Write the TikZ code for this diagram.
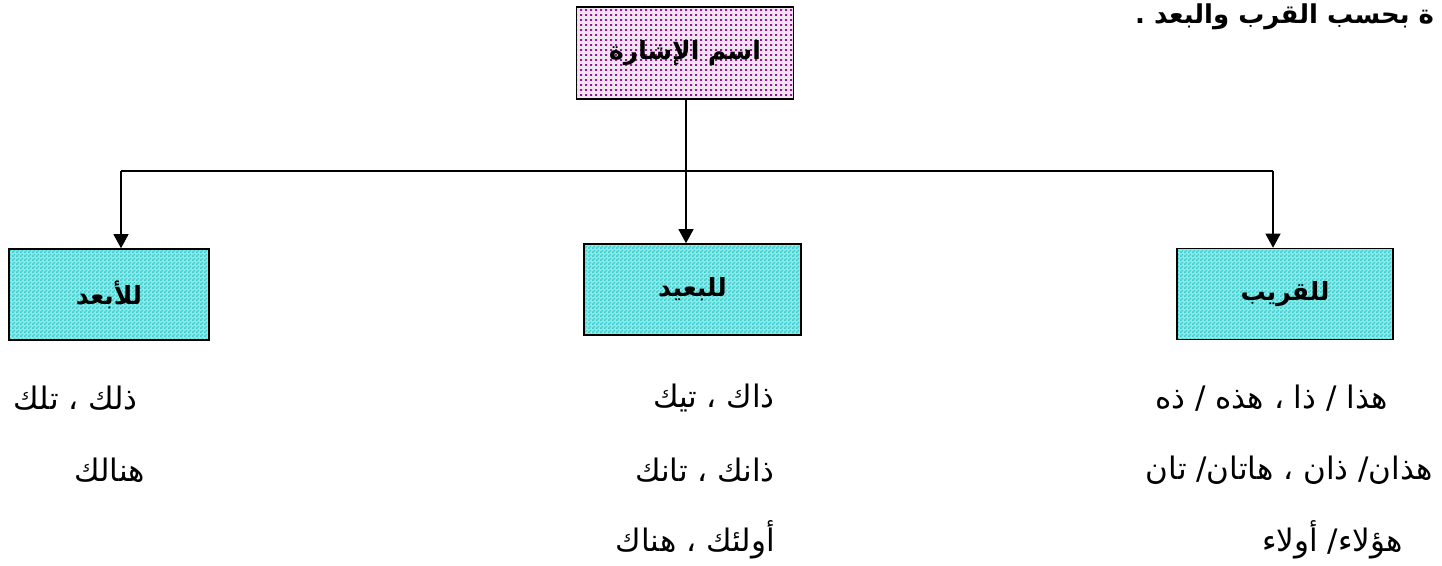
\documentclass[tikz,border=0pt]{standalone}
\usepackage{fontspec}
\newfontfamily\ar[Script=Arabic]{DejaVu Sans}
\TeXXeTstate=1
\usetikzlibrary{patterns,arrows.meta}
\pgfdeclarepatternformonly{checker}{\pgfqpoint{0pt}{0pt}}{\pgfqpoint{4pt}{4pt}}{\pgfqpoint{4pt}{4pt}}{%
  \pgfpathrectangle{\pgfqpoint{0pt}{0pt}}{\pgfqpoint{2pt}{2pt}}%
  \pgfpathrectangle{\pgfqpoint{2pt}{2pt}}{\pgfqpoint{2pt}{2pt}}%
  \pgfusepath{fill}}
\pgfdeclarepatternformonly{pdots}{\pgfqpoint{0pt}{0pt}}{\pgfqpoint{4.6pt}{4.6pt}}{\pgfqpoint{4.6pt}{4.6pt}}{%
  \pgfpathrectangle{\pgfqpoint{0pt}{0pt}}{\pgfqpoint{2.4pt}{2pt}}%
  \pgfusepath{fill}}
\definecolor{tealc}{RGB}{51,204,204}
\definecolor{purp}{RGB}{150,20,150}
\tikzset{
  catbox/.style={draw=black, line width=1.6pt, preaction={fill=tealc!50!white}, pattern=checker, pattern color=tealc,
    minimum width=#1, minimum height=91pt, inner sep=0pt, font=\ar\bfseries\fontsize{25}{30}\selectfont},
  topbox/.style={draw=black, line width=1.6pt, preaction={fill=purp!12!white}, pattern=pdots, pattern color=purp,
    minimum width=217pt, minimum height=92pt, inner sep=0pt, font=\ar\bfseries\fontsize{25}{30}\selectfont},
  conn/.style={line width=1.2pt, draw=black},
  arr/.style={conn, -{Triangle[length=14pt,width=15pt]}},
  item/.style={font=\ar\fontsize{31}{36}\selectfont, inner sep=0pt},
}
\begin{document}
\begin{tikzpicture}[x=1pt,y=-1pt]
\useasboundingbox (0,0) rectangle (1442,565);
\clip (0,0) rectangle (1442,565);
\node[anchor=base west, inner sep=0pt, font=\ar\bfseries\fontsize{26}{31}\selectfont] (head) at (1135,23) {\beginR ة بحسب القرب والبعد .\endR};
\node[topbox] (top) at (685,53) {\beginR اسم الإشارة\endR};
\node[catbox=200pt] (far) at (109,294.5) {\beginR للأبعد\endR};
\node[catbox=217pt] (mid) at (692.5,289.5) {\beginR للبعيد\endR};
\node[catbox=216pt] (near) at (1285,294) {\beginR للقريب\endR};
\coordinate (jl) at (121,171);
\coordinate (jr) at (1273,171);
\coordinate (jm) at (686,171);
\draw[conn] (jl) -- (jr);
\draw[arr] (top.south -| jm) -- (jm |- mid.north);
\draw[arr] (jl) -- (jl |- far.north);
\draw[arr] (jr) -- (jr |- near.north);
% near column
\node[item, anchor=east] (n1) at (1388,398) {\beginR هذا / ذا ، هذه / ذه\endR};
\node[item, anchor=east] (n2) at (1433,470) {\beginR هذان/ ذان ، هاتان/ تان\endR};
\node[item, anchor=east] (n3) at (1403,540) {\beginR هؤلاء/ أولاء\endR};
% middle column
\node[item, anchor=east] (m1) at (775,398) {\beginR ذاك ، تيك\endR};
\node[item, anchor=east] (m2) at (775,470) {\beginR ذانك ، تانك\endR};
\node[item, anchor=east] (m3) at (775,540) {\beginR أولئك ، هناك\endR};
% far column
\node[item, anchor=east] (f1) at (138,398) {\beginR ذلك ، تلك\endR};
\node[item, anchor=east] (f2) at (145,470) {\beginR هنالك\endR};
\end{tikzpicture}
\end{document}
